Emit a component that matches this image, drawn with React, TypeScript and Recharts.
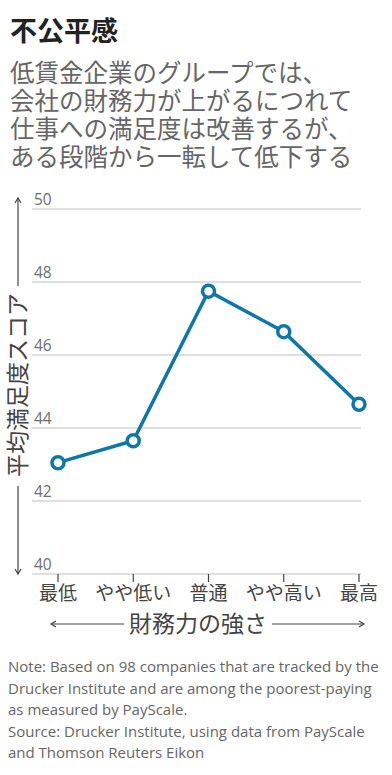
import React from "react";
import { LineChart, Line, XAxis, YAxis, CartesianGrid } from "recharts";

const categories = ["最低", "やや低い", "普通", "やや高い", "最高"];
const scores = [43.05, 43.65, 47.75, 46.64, 44.65];
const yTicks = [40, 42, 44, 46, 48, 50];

const subtitleLines = [
  "低賃金企業のグループでは、",
  "会社の財務力が上がるにつれて",
  "仕事への満足度は改善するが、",
  "ある段階から一転して低下する",
];

const noteLines = [
  "Note: Based on 98 companies that are tracked by the",
  "Drucker Institute and are among the poorest-paying",
  "as measured by PayScale.",
  "Source: Drucker Institute, using data from PayScale",
  "and Thomson Reuters Eikon",
];

const data = categories.map((name, i) => ({ name, score: scores[i] }));

const BLUE = "#0b78a8";
const FONT = "'Noto Sans CJK JP', 'Noto Sans', sans-serif";

const YTick = ({ x, y, payload }: any) => (
  <text x={x + 2} y={y - 4} fill="#6f6f6f" fontSize={15.5} fontFamily="'Open Sans', sans-serif" textAnchor="start">
    {payload.value}
  </text>
);

const XTick = ({ x, y, payload }: any) => (
  <text x={x} y={y + 16} fill="#444" fontSize={19} fontFamily={FONT} textAnchor="middle">
    {payload.value}
  </text>
);

const Arrow = ({ x1, y1, x2, y2 }: any) => {
  const dx = x2 - x1;
  const dy = y2 - y1;
  const len = Math.sqrt(dx * dx + dy * dy);
  const ux = dx / len;
  const uy = dy / len;
  const hx = x2 - ux * 5;
  const hy = y2 - uy * 5;
  return (
    <g stroke="#444" strokeWidth={1.2} fill="none">
      <line x1={x1} y1={y1} x2={x2} y2={y2} />
      <polyline
        points={`${hx - uy * 3},${hy + ux * 3} ${x2},${y2} ${hx + uy * 3},${hy - ux * 3}`}
      />
    </g>
  );
};

export default function App() {
  return (
    <div
      style={{
        position: "absolute",
        left: 0,
        top: 0,
        width: 392,
        height: 775,
        background: "#fff",
        fontFamily: FONT,
      }}
    >
      <div style={{ position: "absolute", left: 10, top: 14, fontSize: 27, fontWeight: 700, color: "#222", lineHeight: "32px" }}>
        不公平感
      </div>
      {subtitleLines.map((line, i) => (
        <div
          key={i}
          style={{
            position: "absolute",
            left: 10,
            top: 58 + i * 28,
            height: 28,
            fontSize: 24.5,
            color: "#666",
            lineHeight: "28px",
            whiteSpace: "nowrap",
          }}
        >
          {line}
        </div>
      ))}

      <div style={{ position: "absolute", left: 0, top: 180 }}>
        <LineChart width={392} height={460} data={data} margin={{ top: 29, right: 31, left: 0, bottom: 0 }}>
          <CartesianGrid horizontal vertical={false} stroke="#d4d4d4" strokeWidth={1.5} />
          <XAxis
            dataKey="name"
            padding={{ left: 26, right: 2 }}
            axisLine={false}
            tickSize={8}
            tickLine={{ stroke: "#444", strokeWidth: 1.2 }}
            tick={<XTick />}
            interval={0}
            height={66}
          />
          <YAxis
            domain={[40, 50]}
            ticks={yTicks}
            width={32}
            interval={0}
            axisLine={false}
            tickLine={false}
            tickSize={0}
            tickMargin={0}
            tick={<YTick />}
          />
          <Line
            type="linear"
            dataKey="score"
            stroke={BLUE}
            strokeWidth={3.5}
            dot={{ r: 6, fill: "#fff", stroke: BLUE, strokeWidth: 3.5 }}
            isAnimationActive={false}
          />
        </LineChart>
      </div>

      <svg style={{ position: "absolute", left: 0, top: 0 }} width={392} height={775} pointerEvents="none">
        <Arrow x1={18} y1={286} x2={18} y2={198} />
        <Arrow x1={18} y1={486} x2={18} y2={574} />
        <text
          transform="translate(26,385) rotate(-90)"
          textAnchor="middle"
          fontSize={23}
          fill="#444"
          fontFamily={FONT}
        >
          平均満足度スコア
        </text>
        <Arrow x1={124} y1={624} x2={51} y2={624} />
        <Arrow x1={272} y1={624} x2={364} y2={624} />
        <text x={198} y={632} textAnchor="middle" fontSize={23} fill="#444" fontFamily={FONT}>
          財務力の強さ
        </text>
      </svg>

      {noteLines.map((line, i) => (
        <div
          key={i}
          style={{
            position: "absolute",
            left: 8,
            top: 656 + i * 21.5,
            fontSize: 15,
            lineHeight: "21.5px",
            color: "#666",
            fontFamily: "'Open Sans', sans-serif",
            whiteSpace: "nowrap",
          }}
        >
          {line}
        </div>
      ))}
    </div>
  );
}
